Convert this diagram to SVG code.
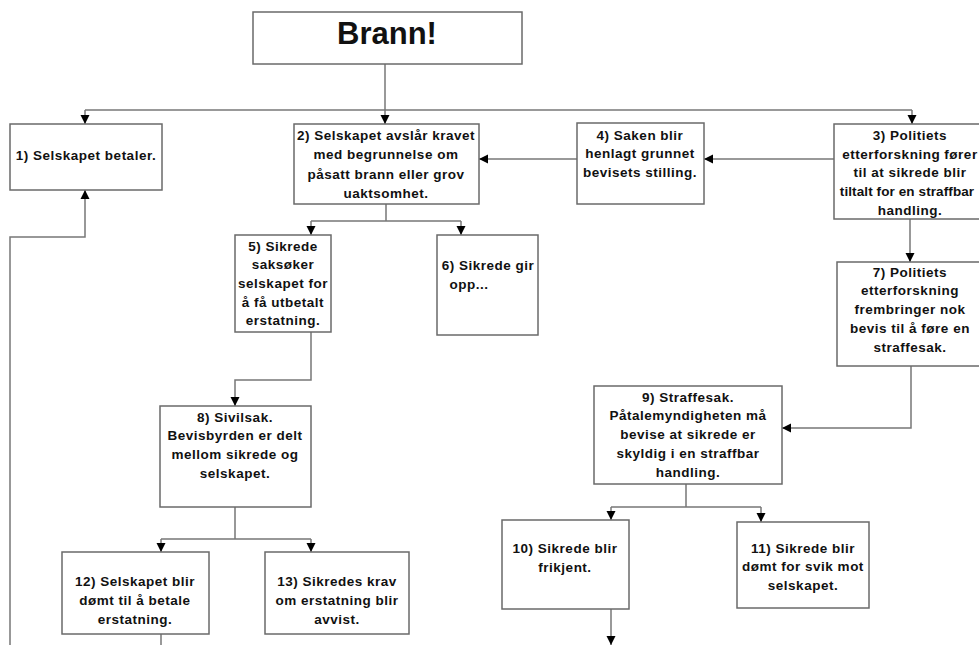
<svg xmlns="http://www.w3.org/2000/svg" width="979" height="645" viewBox="0 0 979 645">
<defs>
<marker id="ah" markerUnits="userSpaceOnUse" markerWidth="10" markerHeight="10" refX="9" refY="5" orient="auto">
<path d="M0,0.5 L9,5 L0,9.5 Z" fill="#000"/>
</marker>
</defs>
<style>
.box{fill:#fff;stroke:#6a6a6a;stroke-width:1.5}
.t{font-family:"Liberation Sans",Arial,sans-serif;font-weight:bold;font-size:13.5px;letter-spacing:0.5px;fill:#111;text-anchor:middle}
.c{fill:none;stroke:#777;stroke-width:1.5}
.a{marker-end:url(#ah)}
</style>
<rect width="979" height="645" fill="#fff"/>
<g id="connectors">
<path class="c" d="M385,64 V110"/>
<path class="c" d="M85,110 H912"/>
<path class="c a" d="M85,110 V124"/>
<path class="c a" d="M385,110 V124"/>
<path class="c a" d="M912,110 V124"/>
<path class="c a" d="M834,159 H704"/>
<path class="c a" d="M577,159 H479"/>
<path class="c" d="M386,204 V221 M311,221 H461"/>
<path class="c a" d="M311,221 V235"/>
<path class="c a" d="M461,221 V235"/>
<path class="c a" d="M910,219 V262"/>
<path class="c a" d="M311,332 V380 H235 V406"/>
<path class="c" d="M235,507 V539 M161,539 H311"/>
<path class="c a" d="M161,539 V552"/>
<path class="c a" d="M311,539 V552"/>
<path class="c" d="M161,634 V645"/>
<path class="c a" d="M10,645 V237 H85 V190"/>
<path class="c a" d="M911,366 V428 H782"/>
<path class="c" d="M686,484 V507 M611,507 H761"/>
<path class="c a" d="M611,507 V520"/>
<path class="c a" d="M761,507 V522"/>
<path class="c a" d="M611,609 V645"/>
</g>
<g id="brann">
<rect class="box" x="253" y="12" width="269" height="52"/>
<text x="387" y="44" style="font-family:'Liberation Sans',Arial,sans-serif;font-weight:bold;font-size:31px;fill:#111;text-anchor:middle">Brann!</text>
</g>
<g id="n1">
<rect class="box" x="10" y="124" width="152" height="66"/>
<text class="t" x="86" y="160">1) Selskapet betaler.</text>
</g>
<g id="n2">
<rect class="box" x="294" y="124" width="185" height="80"/>
<text class="t" x="386" y="140">2) Selskapet avslår kravet</text>
<text class="t" x="386" y="159">med begrunnelse om</text>
<text class="t" x="386" y="179">påsatt brann eller grov</text>
<text class="t" x="386" y="198">uaktsomhet.</text>
</g>
<g id="n4">
<rect class="box" x="577" y="123" width="127" height="81"/>
<text class="t" x="640" y="140">4) Saken blir</text>
<text class="t" x="640" y="158">henlagt grunnet</text>
<text class="t" x="640" y="177">bevisets stilling.</text>
</g>
<g id="n3">
<rect class="box" x="834" y="124" width="160" height="95"/>
<text class="t" x="910" y="140">3) Politiets</text>
<text class="t" x="910" y="159">etterforskning fører</text>
<text class="t" x="910" y="177">til at sikrede blir</text>
<text class="t" x="907" y="196" style="letter-spacing:0.1px">tiltalt for en straffbar</text>
<text class="t" x="910" y="215">handling.</text>
</g>
<g id="n5">
<rect class="box" x="235" y="235" width="96" height="97"/>
<text class="t" x="283" y="251">5) Sikrede</text>
<text class="t" x="283" y="269">saksøker</text>
<text class="t" x="283" y="288">selskapet for</text>
<text class="t" x="283" y="307">å få utbetalt</text>
<text class="t" x="283" y="325">erstatning.</text>
</g>
<g id="n6">
<rect class="box" x="437" y="235" width="101" height="100"/>
<text class="t" x="488" y="270">6) Sikrede gir</text>
<text class="t" x="469" y="289">opp...</text>
</g>
<g id="n7">
<rect class="box" x="837" y="262" width="160" height="104"/>
<text class="t" x="910" y="277">7) Politiets</text>
<text class="t" x="910" y="295">etterforskning</text>
<text class="t" x="910" y="314">frembringer nok</text>
<text class="t" x="910" y="333">bevis til å føre en</text>
<text class="t" x="910" y="352">straffesak.</text>
</g>
<g id="n8">
<rect class="box" x="160" y="406" width="151" height="101"/>
<text class="t" x="235" y="422">8) Sivilsak.</text>
<text class="t" x="235" y="440">Bevisbyrden er delt</text>
<text class="t" x="235" y="459">mellom sikrede og</text>
<text class="t" x="235" y="478">selskapet.</text>
</g>
<g id="n9">
<rect class="box" x="594" y="386" width="188" height="98"/>
<text class="t" x="688" y="402">9) Straffesak.</text>
<text class="t" x="688" y="420">Påtalemyndigheten må</text>
<text class="t" x="688" y="439">bevise at sikrede er</text>
<text class="t" x="688" y="458">skyldig i en straffbar</text>
<text class="t" x="688" y="477">handling.</text>
</g>
<g id="n10">
<rect class="box" x="502" y="520" width="127" height="89"/>
<text class="t" x="565" y="553">10) Sikrede blir</text>
<text class="t" x="565" y="572">frikjent.</text>
</g>
<g id="n11">
<rect class="box" x="737" y="522" width="132" height="86"/>
<text class="t" x="803" y="553">11) Sikrede blir</text>
<text class="t" x="803" y="571">dømt for svik mot</text>
<text class="t" x="803" y="590">selskapet.</text>
</g>
<g id="n12">
<rect class="box" x="62" y="552" width="147" height="82"/>
<text class="t" x="135" y="586">12) Selskapet blir</text>
<text class="t" x="135" y="605">dømt til å betale</text>
<text class="t" x="135" y="624">erstatning.</text>
</g>
<g id="n13">
<rect class="box" x="265" y="552" width="144" height="82"/>
<text class="t" x="337" y="586">13) Sikredes krav</text>
<text class="t" x="337" y="605">om erstatning blir</text>
<text class="t" x="337" y="624">avvist.</text>
</g>
</svg>
